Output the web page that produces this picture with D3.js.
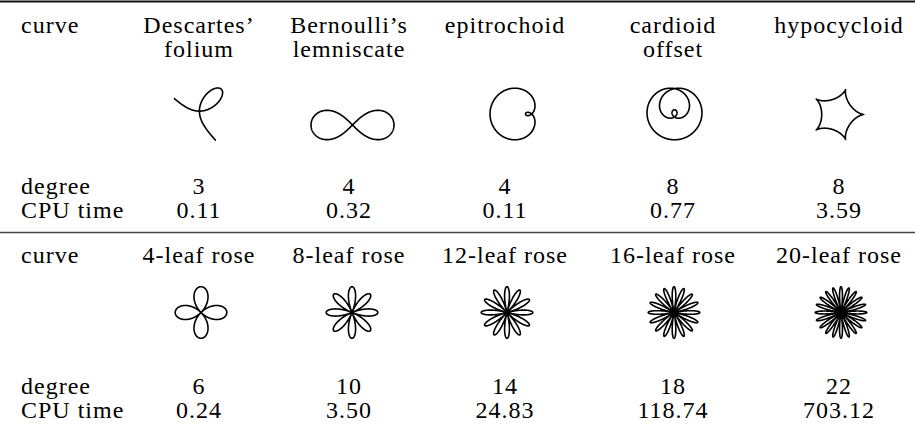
<!DOCTYPE html>
<html><head><meta charset="utf-8">
<script src="https://cdn.jsdelivr.net/npm/d3@7"></script>
<style>
body{margin:0;background:#fff}
</style>
</head><body>
<svg id="c" width="915" height="430"></svg>
<script>
// ---- data ----
const rowLabels = ["curve", "degree", "CPU time"];
const headers1 = [["Descartes’", "folium"], ["Bernoulli’s", "lemniscate"], ["epitrochoid"], ["cardioid", "offset"], ["hypocycloid"]];
const curves1 = ["folium", "lemniscate", "epitrochoid", "cardioidOffset", "hypocycloid"];
const degree1 = [3, 4, 4, 8, 8];
const cpu1 = ["0.11", "0.32", "0.11", "0.77", "3.59"];
const headers2 = ["4-leaf rose", "8-leaf rose", "12-leaf rose", "16-leaf rose", "20-leaf rose"];
const petals2 = [4, 8, 12, 16, 20];
const degree2 = [6, 10, 14, 18, 22];
const cpu2 = ["0.24", "3.50", "24.83", "118.74", "703.12"];

// ---- layout ----
const FONT = "'Liberation Serif', Tinos, 'Times New Roman', Times, 'DejaVu Serif', serif";
const svg = d3.select("#c");
const colX = d3.scaleOrdinal().domain(d3.range(5)).range([199, 349, 505, 673, 839]);
const labelX = 21;

function samples(a, b, n) { return d3.range(n + 1).map(i => a + (b - a) * i / n); }

const gens = {
  folium() {
    const f = t => [3 * t / (1 + t * t * t), 3 * t * t / (1 + t * t * t)];
    const A = samples(-0.5, 1, 600).map(f);
    const B = samples(1, -0.55, 600).map(t => { const p = f(t); return [p[1], p[0]]; });
    return {pts: A.concat(B), k: 14.6, cx: 198.5, cy: 114};
  },
  lemniscate() {
    const pts = samples(0, 2 * Math.PI, 600).map(t => {
      const s = Math.sin(t), c = Math.cos(t), q = 1 + s * s;
      return [c / q, s * c / q];
    });
    return {pts, k: 41.5, cx: 352.5, cy: 125};
  },
  epitrochoid() {
    const d = 1.35;
    const pts = samples(0, 2 * Math.PI, 800).map(t => [2 * Math.cos(t) - d * Math.cos(2 * t), 2 * Math.sin(t) - d * Math.sin(2 * t)]);
    return {pts, k: 8.87, cx: 512.5, cy: 114};
  },
  cardioidOffset() {
    const A = 9.6, d = 15;
    const P = th => [A * (1 + Math.cos(th)) * Math.cos(th), A * (1 + Math.cos(th)) * Math.sin(th)];
    const N = th => [Math.cos(1.5 * th), Math.sin(1.5 * th)];
    const op = samples(-Math.PI, Math.PI, 900).map(th => { const p = P(th), n = N(th); return [p[0] + d * n[0], p[1] + d * n[1]]; });
    const om = samples(-Math.PI, Math.PI, 900).map(th => { const p = P(th), n = N(th); return [p[0] - d * n[0], p[1] - d * n[1]]; });
    const pts = op.concat(om).map(p => [p[1], -p[0]]);
    return {pts, k: 1, cx: 674.5, cy: 114};
  },
  hypocycloid() {
    const r = 0.2;
    const pts = samples(0, 2 * Math.PI, 800).map(t => [4 * r * Math.cos(t) + r * Math.cos(4 * t), 4 * r * Math.sin(t) - r * Math.sin(4 * t)]);
    return {pts, k: 26.3, cx: 840, cy: 114.5};
  }
};
function rose(n) {
  const m = n / 2;
  return samples(0, 2 * Math.PI, 3000).map(th => { const r = Math.cos(m * th); return [r * Math.cos(th), r * Math.sin(th)]; });
}

function drawCurve(g, pts, cx, cy, k) {
  const xe = d3.extent(pts, p => p[0]), ye = d3.extent(pts, p => p[1]);
  const mx = (xe[0] + xe[1]) / 2, my = (ye[0] + ye[1]) / 2;
  const sx = d3.scaleLinear().domain([mx - 1, mx + 1]).range([cx - k, cx + k]);
  const sy = d3.scaleLinear().domain([my - 1, my + 1]).range([cy + k, cy - k]);
  g.append("path")
    .attr("d", d3.line().x(p => sx(p[0])).y(p => sy(p[1]))(pts))
    .attr("fill", "none").attr("stroke", "#000").attr("stroke-width", 1.6)
    .attr("stroke-linejoin", "round").attr("stroke-linecap", "round");
}

// rules
svg.append("line").attr("x1", 0).attr("x2", 915).attr("y1", 1.5).attr("y2", 1.5).attr("stroke", "#111").attr("stroke-width", 2.2);
svg.append("line").attr("x1", 0).attr("x2", 915).attr("y1", 232.5).attr("y2", 232.5).attr("stroke", "#444").attr("stroke-width", 1.6);

function txt(g, x, y, s, anchor) {
  return g.append("text").attr("x", x).attr("y", y)
    .attr("font-family", FONT).attr("font-size", 24).attr("letter-spacing", "1px")
    .attr("fill", "#000").attr("text-anchor", anchor || "start").text(s);
}

function block(yHead, yDeg, yCpu, headers, degrees, cpus) {
  const g = svg.append("g");
  txt(g, labelX, yHead, rowLabels[0]);
  txt(g, labelX, yDeg, rowLabels[1]);
  txt(g, labelX, yCpu, rowLabels[2]);
  headers.forEach((h, i) => {
    const lines = Array.isArray(h) ? h : [h];
    lines.forEach((ln, j) => txt(g, colX(i), yHead + 24 * j, ln, "middle"));
  });
  degrees.forEach((v, i) => txt(g, colX(i), yDeg, v, "middle"));
  cpus.forEach((v, i) => txt(g, colX(i), yCpu, v, "middle"));
  return g;
}

const g1 = block(33, 194, 218, headers1, degree1, cpu1);
curves1.forEach(c => { const o = gens[c](); drawCurve(g1, o.pts, o.cx, o.cy, o.k); });

const g2 = block(263, 394, 418, headers2, degree2, cpu2);
const roseX = [201, 352, 507, 674, 841];
petals2.forEach((n, i) => drawCurve(g2, rose(n), roseX[i], 312.5, 25.8));
</script>
</body></html>
